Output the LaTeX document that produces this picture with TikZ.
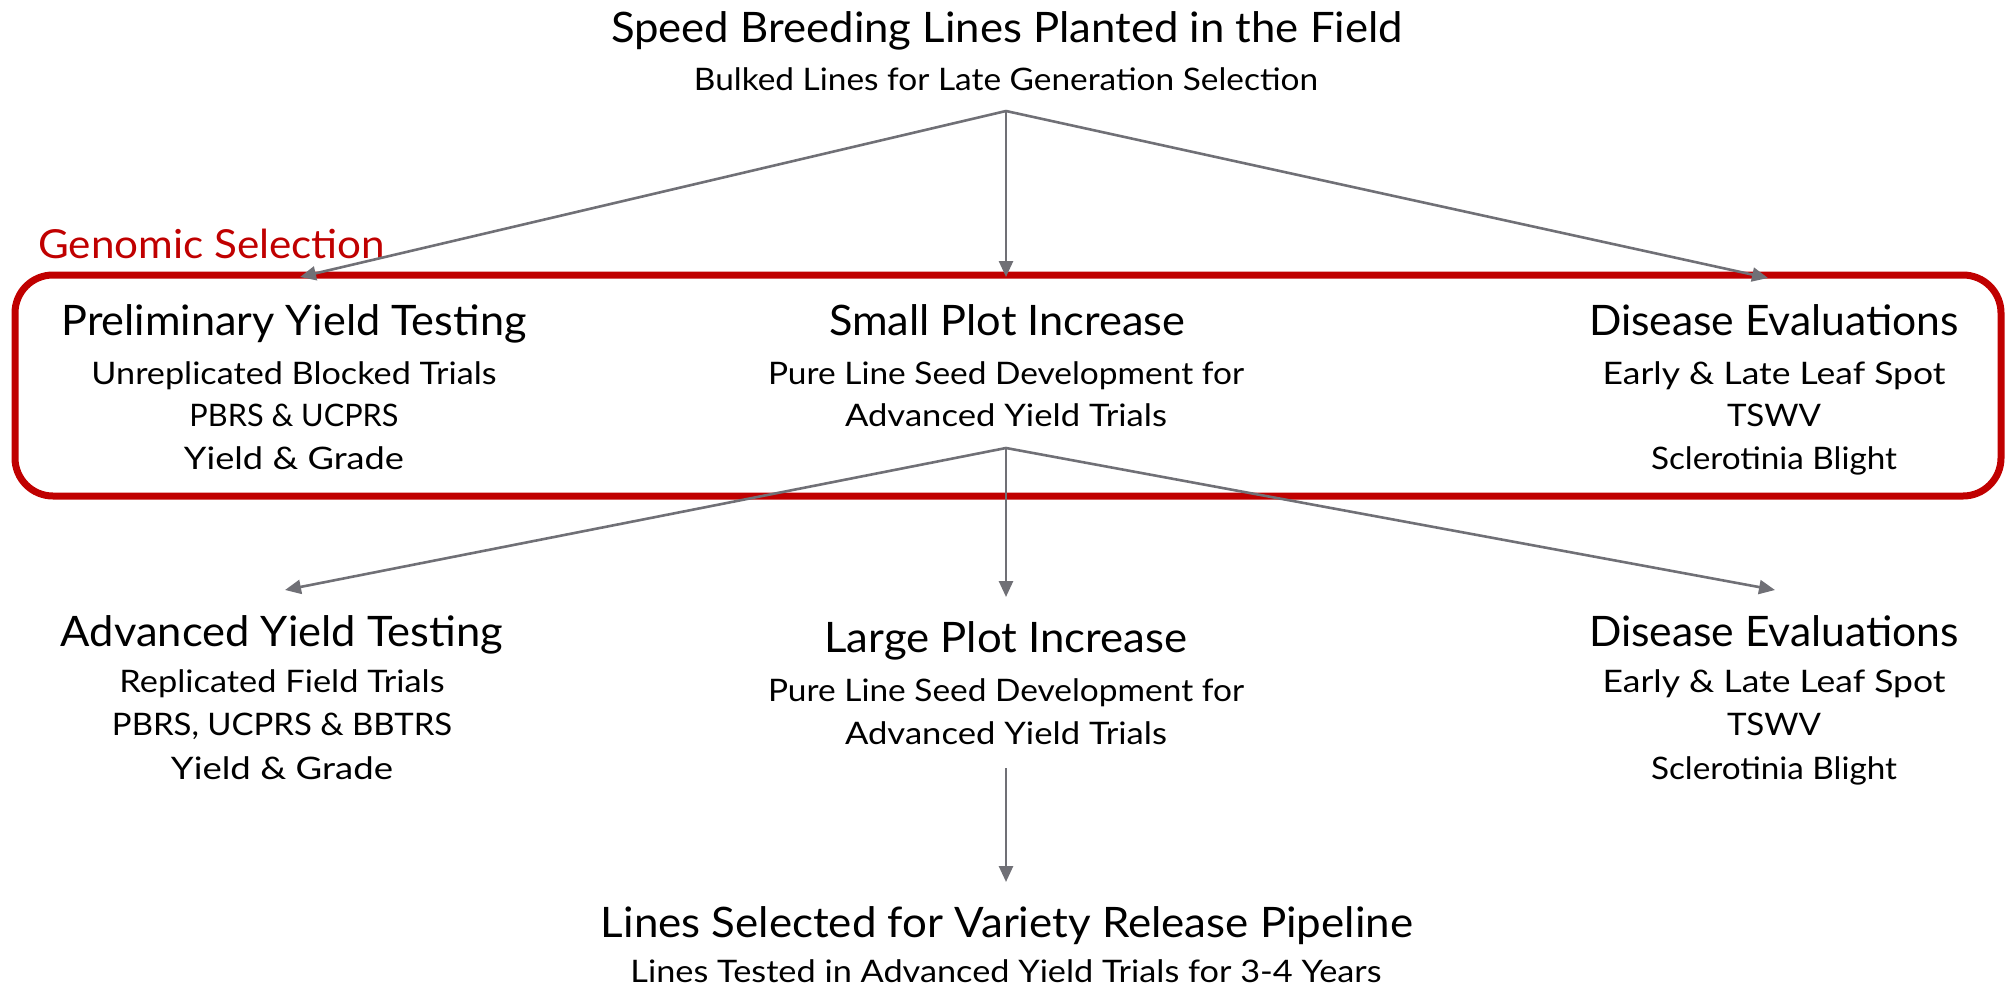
\documentclass[tikz,border=0pt]{standalone}
\usepackage{fontspec}
\setmainfont{Lato}
\usetikzlibrary{arrows.meta}
\definecolor{gsred}{RGB}{192,0,0}
\definecolor{arrgray}{RGB}{112,112,118}
\newcommand\fitw[2]{\resizebox{#1pt}{\height}{#2}}
\begin{document}
\begin{tikzpicture}[x=1pt,y=-1pt,
  big/.style={anchor=base,inner sep=0pt,font=\fontsize{42}{50}\selectfont},
  small/.style={anchor=base,inner sep=0pt,font=\fontsize{31}{37}\selectfont},
  gs/.style={anchor=base west,inner sep=0pt,text=gsred,font=\fontsize{40}{46}\selectfont},
  gsbox/.style={draw=gsred,line width=7pt,rounded corners=38pt},
  conn/.style={draw=arrgray,line width=2.6pt,-{Triangle[length=16pt,width=14pt]}},
]
\useasboundingbox (0,0) rectangle (2005,988);

% selection box
\draw[gsbox] (15,275) rectangle (2001,496);
\node[gs] (gslabel) at (38,258) {\fitw{347}{Genomic Selection}};

% top
\node[big] (top) at (1007,42) {\fitw{792}{Speed Breeding Lines Planted in the Field}};
\node[small] (topsub) at (1006,90) {\fitw{624}{Bulked Lines for Late Generation Selection}};

% row 1
\node[big] (pyt) at (294,335) {\fitw{465}{Preliminary Yield Testing}};
\node[small] (pyt1) at (294,384) {\fitw{405}{Unreplicated Blocked Trials}};
\node[small] (pyt2) at (294,426) {\fitw{209}{PBRS \& UCPRS}};
\node[small] (pyt3) at (294,469) {\fitw{220}{Yield \& Grade}};

\node[big] (spi) at (1007,335) {\fitw{356}{Small Plot Increase}};
\node[small] (spi1) at (1006,384) {\fitw{476}{Pure Line Seed Development for}};
\node[small] (spi2) at (1006,426) {\fitw{322}{Advanced Yield Trials}};

\node[big] (de1) at (1774,335) {\fitw{370}{Disease Evaluations}};
\node[small] (de1a) at (1774,384) {\fitw{343}{Early \& Late Leaf Spot}};
\node[small] (de1b) at (1774,426) {\fitw{94}{TSWV}};
\node[small] (de1c) at (1774,469) {\fitw{246}{Sclerotinia Blight}};

% row 2
\node[big] (ayt) at (282,646) {\fitw{442}{Advanced Yield Testing}};
\node[small] (ayt1) at (282,692) {\fitw{325}{Replicated Field Trials}};
\node[small] (ayt2) at (282,735) {\fitw{340}{PBRS, UCPRS \& BBTRS}};
\node[small] (ayt3) at (282,779) {\fitw{222}{Yield \& Grade}};

\node[big] (lpi) at (1006,652) {\fitw{363}{Large Plot Increase}};
\node[small] (lpi1) at (1006,701) {\fitw{476}{Pure Line Seed Development for}};
\node[small] (lpi2) at (1006,744) {\fitw{322}{Advanced Yield Trials}};

\node[big] (de2) at (1774,646) {\fitw{370}{Disease Evaluations}};
\node[small] (de2a) at (1774,692) {\fitw{343}{Early \& Late Leaf Spot}};
\node[small] (de2b) at (1774,735) {\fitw{94}{TSWV}};
\node[small] (de2c) at (1774,779) {\fitw{246}{Sclerotinia Blight}};

% bottom
\node[big] (rel) at (1007,937) {\fitw{812}{Lines Selected for Variety Release Pipeline}};
\node[small] (relsub) at (1006,982) {\fitw{751}{Lines Tested in Advanced Yield Trials for 3-4 Years}};

% connector points
\coordinate (o1) at (1006,111);
\coordinate (t1l) at (300,277);
\coordinate (t1m) at (1006,277);
\coordinate (t1r) at (1768,278);
\coordinate (o2) at (1006,448);
\coordinate (t2l) at (285,590);
\coordinate (t2m) at (1006,597);
\coordinate (t2r) at (1775,590);
\coordinate (o3) at (1006,768);
\coordinate (t3) at (1006,882);

\draw[conn] (o1) -- (t1l);
\draw[conn] (o1) -- (t1m);
\draw[conn] (o1) -- (t1r);
\draw[conn] (o2) -- (t2l);
\draw[conn] (o2) -- (t2m);
\draw[conn] (o2) -- (t2r);
\draw[conn] (o3) -- (t3);
\end{tikzpicture}
\end{document}
